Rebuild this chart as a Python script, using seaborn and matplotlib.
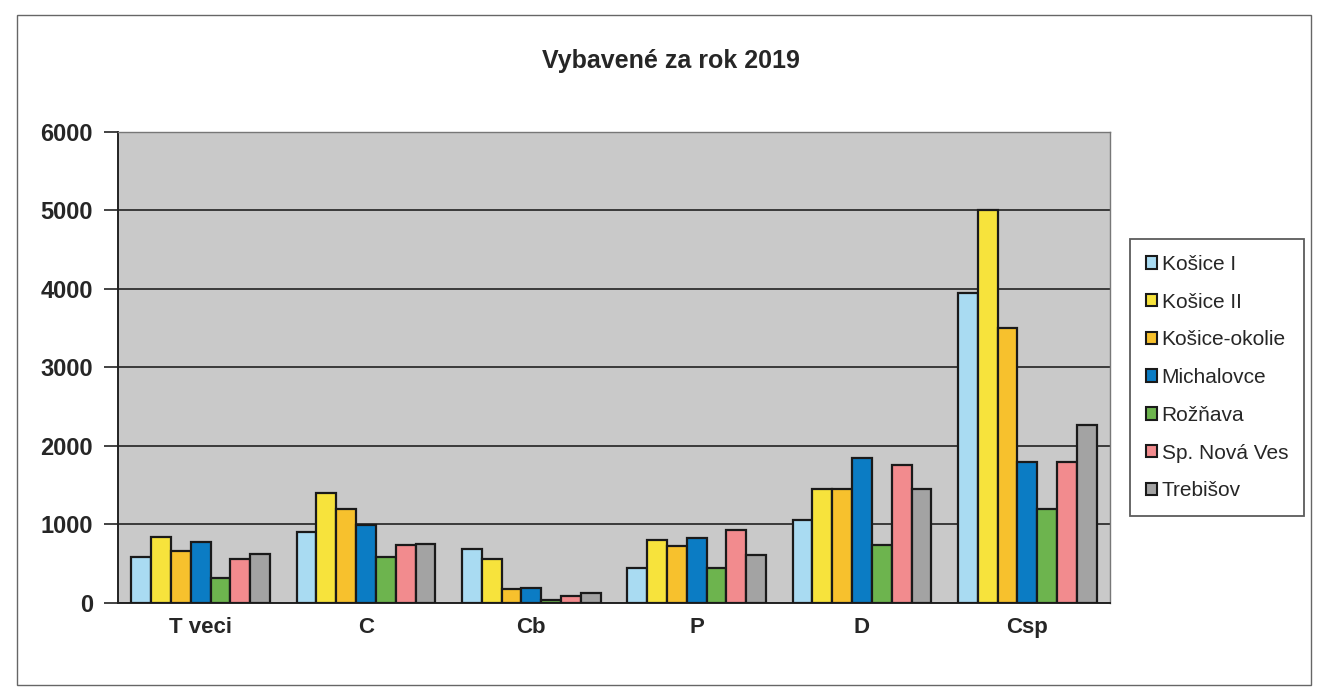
import numpy as np
import pandas as pd
import matplotlib
matplotlib.use("Agg")
import matplotlib.pyplot as plt
import seaborn as sns
from matplotlib.patches import Rectangle, Patch

categories = ["T veci", "C", "Cb", "P", "D", "Csp"]
offices = ["Košice I", "Košice II", "Košice-okolie", "Michalovce", "Rožňava", "Sp. Nová Ves", "Trebišov"]

kosice_1 = [585, 900, 690, 450, 1050, 3950]
kosice_2 = [840, 1400, 560, 800, 1450, 5000]
kosice_okolie = [660, 1200, 175, 730, 1450, 3500]
michalovce = [775, 995, 190, 830, 1840, 1800]
roznava = [320, 590, 40, 450, 740, 1200]
sp_nova_ves = [560, 740, 90, 930, 1760, 1790]
trebisov = [625, 750, 120, 610, 1450, 2270]

colors = ["#a9dbf2", "#f7e33c", "#f7c12d", "#0b7cc4", "#6db44e", "#f28b8e", "#a3a3a3"]

series = [kosice_1, kosice_2, kosice_okolie, michalovce, roznava, sp_nova_ves, trebisov]
rows = []
for off, vals in zip(offices, series):
    for cat, v in zip(categories, vals):
        rows.append({"cat": cat, "office": off, "value": v})
df = pd.DataFrame(rows)

sns.set_style("white")
plt.rcParams["font.family"] = ["Liberation Sans", "DejaVu Sans"]

fig = plt.figure(figsize=(13.19, 6.89), dpi=100)
ax = fig.add_axes([0.0895, 0.125, 0.752, 0.6834])
ax.set_facecolor("#c9c9c9")

sns.barplot(data=df, x="cat", y="value", hue="office", order=categories,
            hue_order=offices, palette=colors, width=0.84, edgecolor="#1a1a1a",
            linewidth=1.6, saturation=1, ax=ax, legend=False, zorder=3)

ax.set_ylim(0, 6000)
ax.set_xlim(-0.5, 5.5)
ax.set_yticks(np.arange(0, 6001, 1000))
ax.set_yticklabels([str(v) for v in range(0, 6001, 1000)], fontsize=17, fontweight="bold")
ax.grid(axis="y", color="#222222", linewidth=1.2, zorder=1)
ax.set_axisbelow(True)
ax.set_xticks(range(len(categories)))
ax.set_xticklabels(categories, fontsize=16, fontweight="bold")
ax.set_xticks(np.arange(-0.5, 6, 1), minor=True)
ax.tick_params(axis="x", which="major", length=0, pad=10)
ax.tick_params(axis="x", which="minor", length=6, width=1.2, color="#222222")
ax.tick_params(axis="y", length=10, width=1.2, color="#222222", pad=8, left=True)
ax.set_xlabel("")
ax.set_ylabel("")
for s in ["left", "bottom"]:
    ax.spines[s].set_color("#222222")
    ax.spines[s].set_linewidth(1.4)
for s in ["top", "right"]:
    ax.spines[s].set_color("#777777")
    ax.spines[s].set_linewidth(1.0)

fig.text(0.509, 0.912, "Vybavené za rok 2019", ha="center", va="center",
         fontsize=18, fontweight="bold")

handles = [Patch(facecolor=c, edgecolor="#1a1a1a", linewidth=1.5) for c in colors]
leg = fig.legend(handles, offices, loc="center left", bbox_to_anchor=(0.857, 0.452),
                 frameon=True, fontsize=15, handlelength=0.55, handleheight=0.55,
                 handletextpad=0.2, labelspacing=0.9, borderpad=0.75,
                 fancybox=False, edgecolor="#333333", borderaxespad=0)
leg.get_frame().set_linewidth(1.3)

fig.add_artist(Rectangle((0.013, 0.006), 0.981, 0.972, transform=fig.transFigure,
                         fill=False, edgecolor="#666666", linewidth=1.0))

fig.savefig("out.png", dpi=100, facecolor="white")
